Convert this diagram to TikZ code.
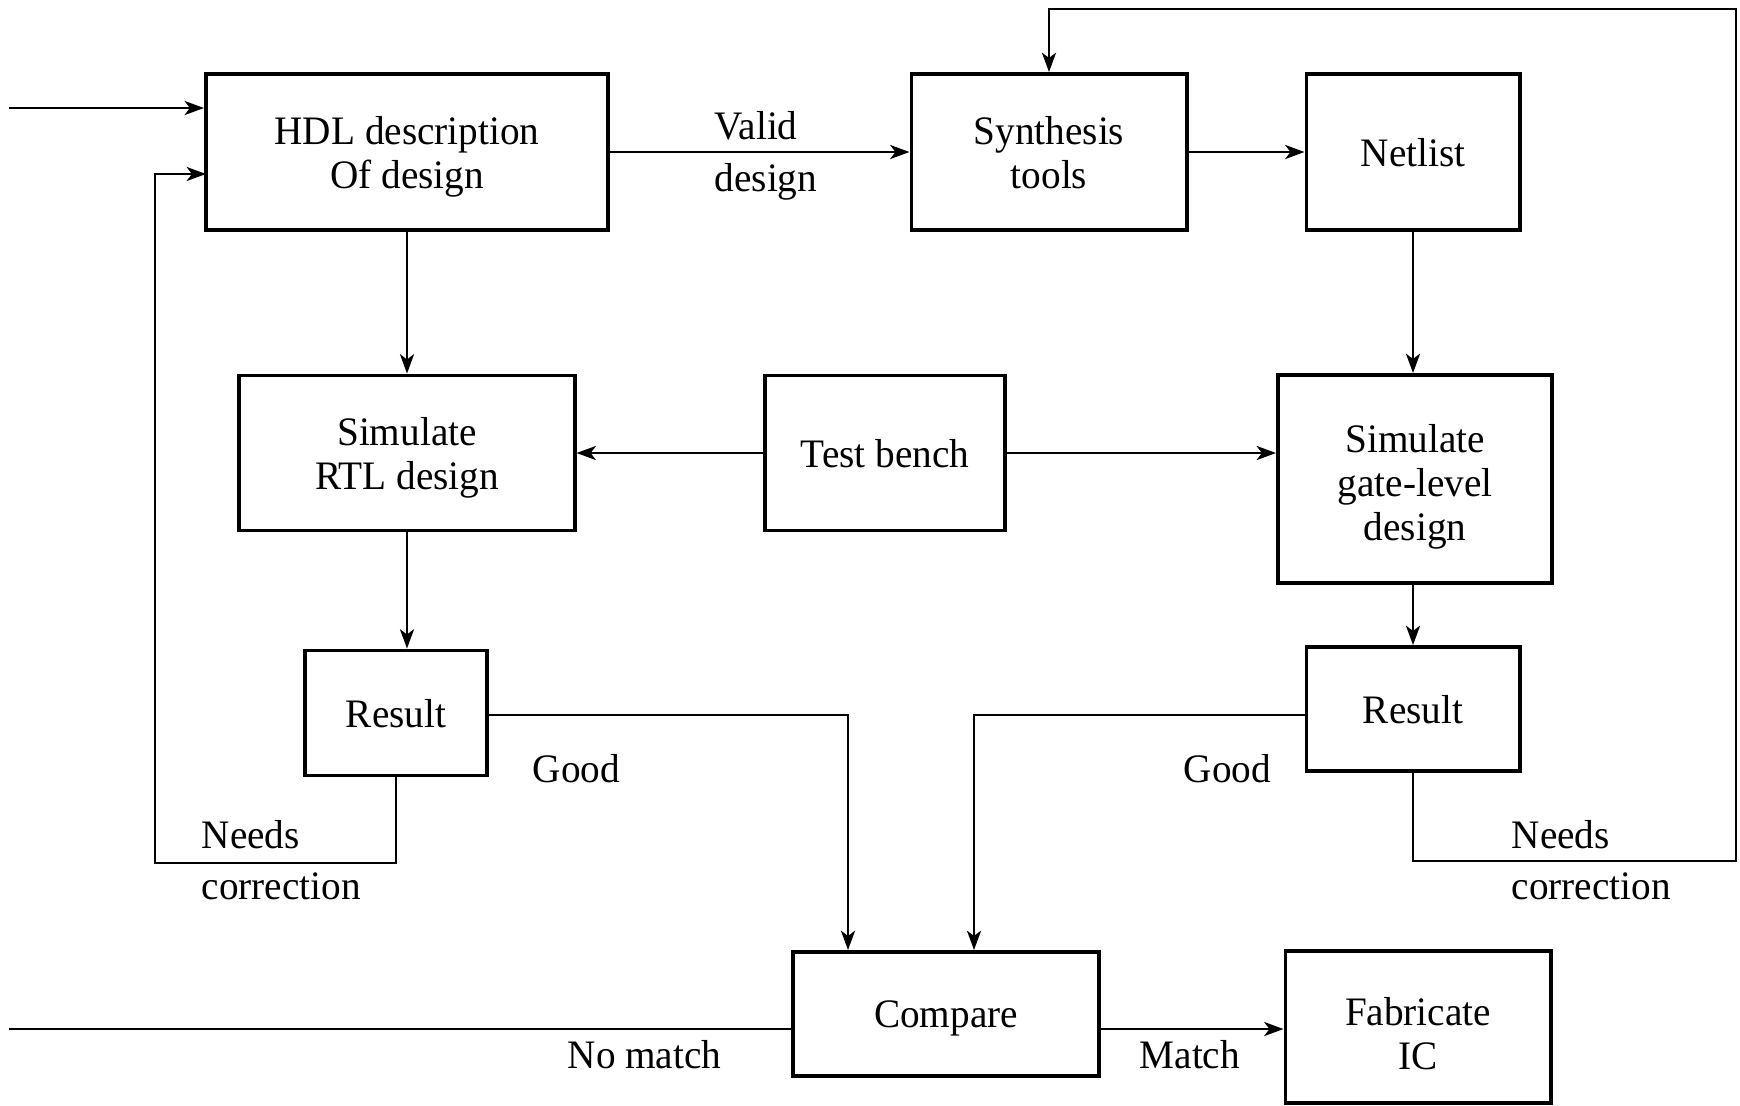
\documentclass[tikz,border=0pt]{standalone}
\usepackage{fontspec}
\setmainfont{Liberation Serif}[FakeStretch=0.97]
\usetikzlibrary{arrows.meta}

\begin{document}
\begin{tikzpicture}[x=0.01cm,y=-0.01cm,
    >={Stealth[length=5.5pt,width=4pt,inset=1.5pt]},
    box/.style={draw,line width=1.1pt,align=center,inner sep=0pt,text depth=0pt,font=\fontsize{11.5}{12.5}\selectfont},
    lbl/.style={inner sep=0pt,font=\fontsize{11.5}{12.5}\selectfont},
    wire/.style={line width=0.7pt}]
    \useasboundingbox (0,0) rectangle (1740,1105);
    % boxes
    \node[box,minimum width=4.02cm,minimum height=1.56cm] (hdl) at (407,152) {HDL description\\Of design};
    \node[box,minimum width=2.75cm,minimum height=1.56cm] (syn) at (1049,152) {Synthesis\\tools};
    \node[box,minimum width=2.13cm,minimum height=1.56cm] (net) at (1413,152) {Netlist};
    \node[box,minimum width=3.35cm,minimum height=1.55cm] (rtl) at (407,453) {Simulate\\RTL design};
    \node[box,minimum width=2.40cm,minimum height=1.55cm] (tb) at (885,453) {Test bench};
    \node[box,minimum width=2.74cm,minimum height=2.08cm,text height=1.22cm] (gate) at (1415,479) {Simulate\\gate-level\\design};
    \node[box,minimum width=1.82cm,minimum height=1.25cm] (resl) at (396,713) {Result};
    \node[box,minimum width=2.13cm,minimum height=1.24cm] (resr) at (1413,709) {Result};
    \node[box,minimum width=3.06cm,minimum height=1.24cm] (cmp) at (946,1014) {Compare};
    \node[box,minimum width=2.65cm,minimum height=1.52cm,text height=0.85cm] (fab) at (1418,1027) {Fabricate\\IC};
    % free ends and bends
    \coordinate (in) at (9,108);
    \coordinate (fbl) at (155,863);
    \coordinate (hin) at (206,174);
    \coordinate (fbr) at (1736,861);
    \coordinate (top) at (1736,9);
    \coordinate (gl) at (848,715);
    \coordinate (gr) at (974,715);
    \coordinate (nm) at (9,1029);
    % connectors
    \draw[wire,->] (in) -- (hdl.west |- in);
    \draw[wire,->] (hdl.east) -- (syn.west);
    \draw[wire,->] (syn.east) -- (net.west);
    \draw[wire,->] (hdl.south) -- (rtl.north);
    \draw[wire,->] (net.south) -- (net.south |- gate.north);
    \draw[wire,->] (tb.west) -- (rtl.east);
    \draw[wire,->] (tb.east) -- (gate.west |- tb.east);
    \draw[wire,->] (rtl.south) -- (rtl.south |- resl.north);
    \draw[wire,->] (resr.north |- gate.south) -- (resr.north);
    \draw[wire,->] (resl.east |- gl) -| (gl |- cmp.north);
    \draw[wire,->] (resr.west |- gr) -| (gr |- cmp.north);
    \draw[wire,->] (resl.south) |- (fbl) |- (hin);
    \draw[wire,->] (resr.south) |- (fbr) |- (syn.north |- top) -- (syn.north);
    \draw[wire] (cmp.west |- nm) -- (nm);
    \draw[wire,->] (cmp.east |- nm) -- (fab.west |- nm);
    % labels
    \node[lbl,anchor=base west] (v1) at (714,139) {Valid};
    \node[lbl,anchor=base west] (v2) at (714,191) {design};
    \node[lbl,anchor=base west] (g1) at (532,782) {Good};
    \node[lbl,anchor=base west] (g2) at (1183,782) {Good};
    \node[lbl,anchor=base west] (n1) at (201,848) {Needs};
    \node[lbl,anchor=base west] (c1) at (201,899) {correction};
    \node[lbl,anchor=base west] (n2) at (1511,848) {Needs};
    \node[lbl,anchor=base west] (c2) at (1511,899) {correction};
    \node[lbl,anchor=base west] (nomatch) at (567,1068) {No match};
    \node[lbl,anchor=base west] (match) at (1139,1068) {Match};
\end{tikzpicture}
\end{document}
